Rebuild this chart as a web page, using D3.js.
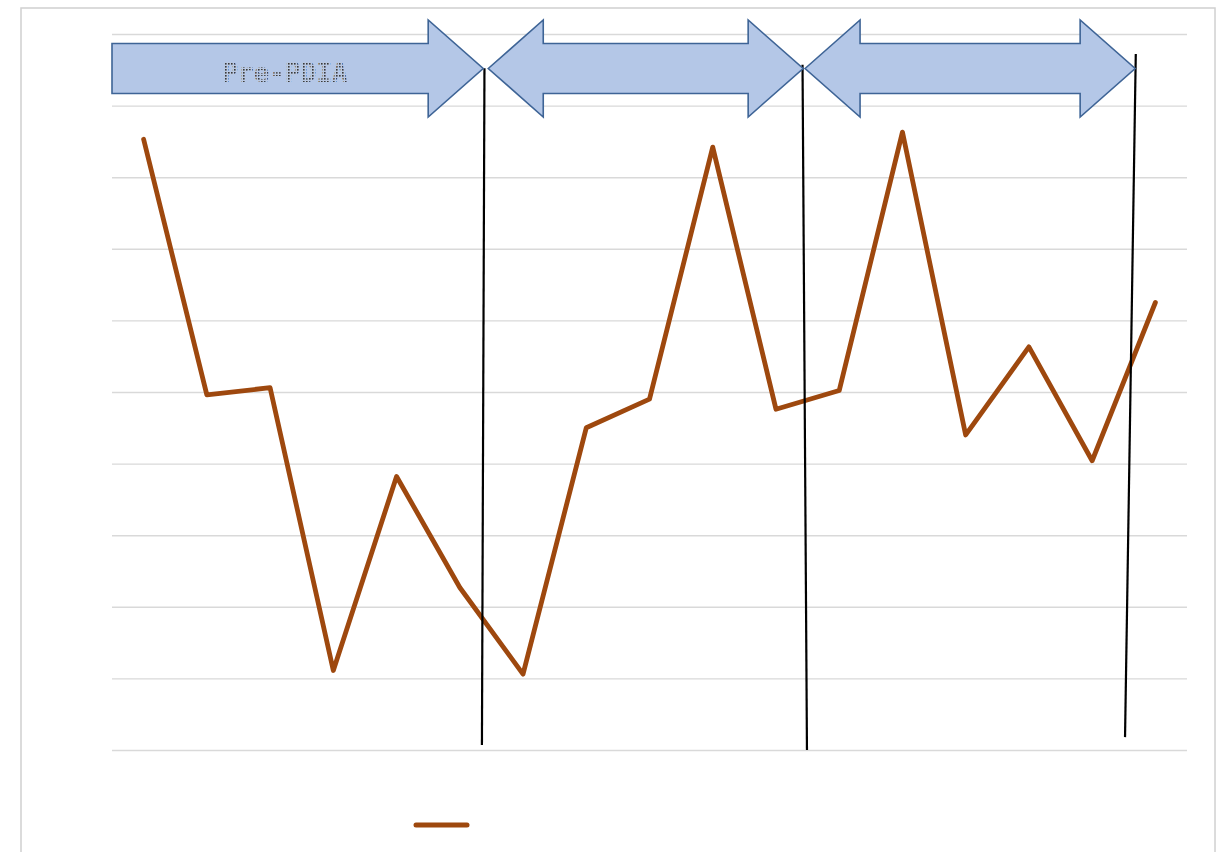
<!DOCTYPE html>
<html>
<head>
<meta charset="utf-8">
<script src="https://cdn.jsdelivr.net/npm/d3@7"></script>
<style>
  html, body { margin: 0; padding: 0; background: #fff; }
  svg { display: block; }
</style>
</head>
<body>
<svg id="chart" width="1225" height="852"></svg>
<script>
// ---- data ----
const categories = ["1","2","3","4","5","6","7","8","9","10","11","12","13","14","15","16","17"];
const values = [8.53, 4.96, 5.06, 1.11, 3.82, 2.27, 1.06, 4.50, 4.90, 8.42, 4.76, 5.02, 8.63, 4.40, 5.63, 4.04, 6.25];
const yTicks = [0, 1, 2, 3, 4, 5, 6, 7, 8, 9, 10];
const seriesName = "";
// phase arrows (positions in category-band units) and labels
const phaseStarts = [0.0, 5.95, 10.96];
const phaseEnds = [5.87, 10.93, 16.18];
const phaseTypes = ["right", "double", "double"];
const phaseLabels = ["Pre-PDIA", "", ""];
// divider lines: band position at top / bottom, and value at top / bottom
const dividerTopPos = [5.89, 10.92, 16.19];
const dividerBottomPos = [5.85, 10.99, 16.02];
const dividerTopVal = [9.52, 9.57, 9.72];
const dividerBottomVal = [0.07, 0.0, 0.18];

// ---- layout ----
const svg = d3.select("#chart");
const plotL = 112, plotR = 1187, plotT = 34, plotB = 750;

const x = d3.scaleBand().domain(categories).range([plotL, plotR]).paddingInner(0).paddingOuter(0);
const step = x.step();
const pos = p => plotL + p * step; // band units to pixels
const y = d3.scaleLinear().domain([0, 10]).range([plotB, plotT]);

// dotted pattern for the faded label
const defs = svg.append("defs");
const pat = defs.append("pattern").attr("id", "dots")
  .attr("patternUnits", "userSpaceOnUse").attr("width", 3).attr("height", 3);
pat.append("rect").attr("width", 3).attr("height", 3).attr("fill", "#b9c8e2");
pat.append("rect").attr("width", 1.6).attr("height", 1.6).attr("fill", "#3a3a3a");

// frame
svg.append("rect")
  .attr("x", 21).attr("y", 8)
  .attr("width", 1194).attr("height", 870)
  .attr("fill", "#fff")
  .attr("stroke", "#d0d0d0").attr("stroke-width", 1.5);

// gridlines via axis
const yAxis = d3.axisLeft(y).tickValues(yTicks).tickSize(-(plotR - plotL)).tickFormat("");
const g = svg.append("g").attr("transform", `translate(${plotL},0)`).call(yAxis);
g.select(".domain").remove();
g.selectAll(".tick line").attr("stroke", "#d9d9d9").attr("stroke-width", 1.4);

// series line
const line = d3.line()
  .x((d, i) => x(categories[i]) + step / 2)
  .y(d => y(d));
svg.append("path")
  .datum(values)
  .attr("fill", "none")
  .attr("stroke", "#9E480E")
  .attr("stroke-width", 4.8)
  .attr("stroke-linejoin", "round")
  .attr("stroke-linecap", "round")
  .attr("d", line);

// divider lines
dividerTopPos.forEach((p, i) => {
  svg.append("line")
    .attr("x1", pos(p)).attr("y1", y(dividerTopVal[i]))
    .attr("x2", pos(dividerBottomPos[i])).attr("y2", y(dividerBottomVal[i]))
    .attr("stroke", "#000").attr("stroke-width", 2.2);
});

// arrows
const cy = 68.5, bh = 25, hh = 48.5, hl = 55;
phaseStarts.forEach((s, i) => {
  const x0 = pos(s), x1 = pos(phaseEnds[i]);
  let pts;
  if (phaseTypes[i] === "right") {
    pts = [[x0, cy - bh], [x1 - hl, cy - bh], [x1 - hl, cy - hh], [x1, cy],
           [x1 - hl, cy + hh], [x1 - hl, cy + bh], [x0, cy + bh]];
  } else {
    pts = [[x0, cy], [x0 + hl, cy - hh], [x0 + hl, cy - bh], [x1 - hl, cy - bh],
           [x1 - hl, cy - hh], [x1, cy], [x1 - hl, cy + hh], [x1 - hl, cy + bh],
           [x0 + hl, cy + bh], [x0 + hl, cy + hh]];
  }
  svg.append("path")
    .attr("d", "M" + pts.map(p => p.join(",")).join("L") + "Z")
    .attr("fill", "#B4C7E7")
    .attr("stroke", "#3E6496")
    .attr("stroke-width", 1.6)
    .attr("stroke-linejoin", "miter");
  if (phaseLabels[i]) {
    svg.append("text")
      .attr("x", (x0 + x1 - hl) / 2 + 15)
      .attr("y", cy + 13)
      .attr("text-anchor", "middle")
      .attr("font-family", "DejaVu Sans Mono, monospace")
      .attr("font-size", 26)
      .attr("font-weight", "bold")
      .attr("fill", "url(#dots)")
      .text(phaseLabels[i]);
  }
});

// legend
const lg = svg.append("g");
lg.append("line")
  .attr("x1", 416).attr("x2", 467)
  .attr("y1", 825).attr("y2", 825)
  .attr("stroke", "#9E480E").attr("stroke-width", 5).attr("stroke-linecap", "round");
lg.append("text").attr("x", 475).attr("y", 830).attr("font-size", 14).attr("fill", "#595959").text(seriesName);
</script>
</body>
</html>
